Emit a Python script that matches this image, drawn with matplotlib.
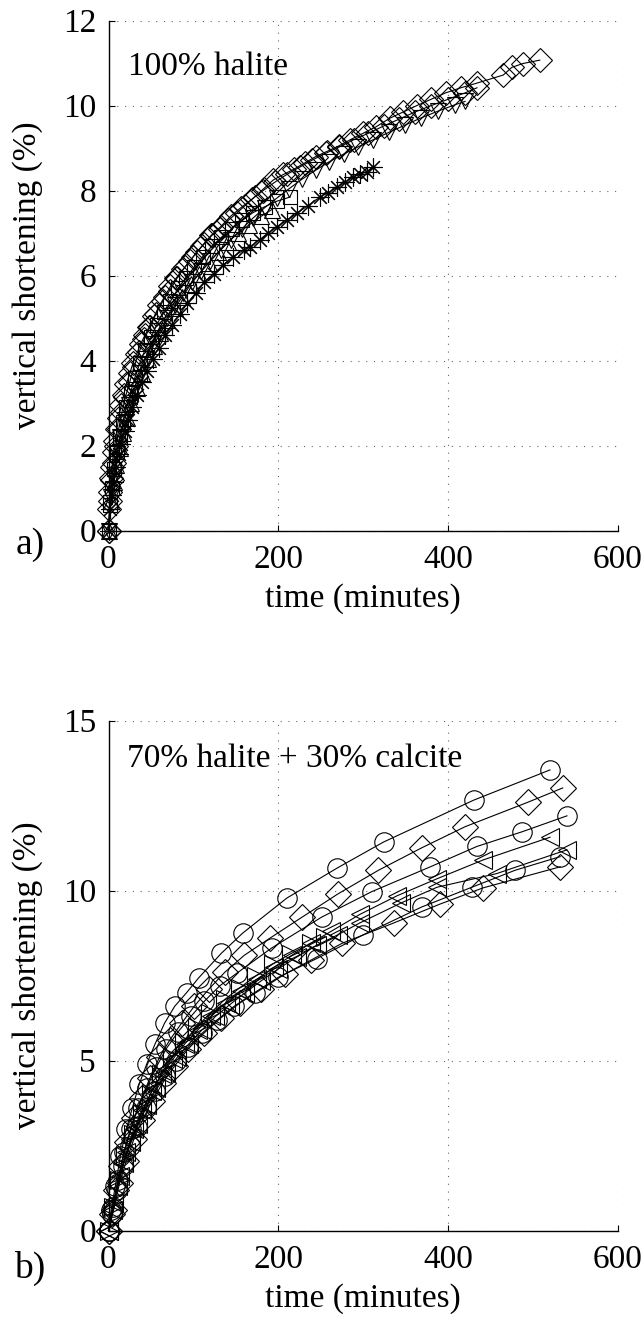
import matplotlib
matplotlib.use("Agg")
import matplotlib.pyplot as plt

plt.rcParams['font.family'] = ['Liberation Serif', 'DejaVu Serif']

# ---- panel a) 100% halite ----
t_a1 = [0, 1, 2, 3, 4, 6, 8, 10, 12, 15, 18, 21, 25, 29, 33, 38, 43, 48, 54, 60,
        66, 73, 80, 88, 96, 104, 113, 122, 131, 141, 151, 161, 172, 183, 194, 206,
        218, 231, 244, 257, 271, 285, 300, 315, 331, 347, 363, 380, 397, 415, 434,
        465, 475, 488, 508]
y_a1 = [0, 0.5, 0.9, 1.25, 1.5, 1.85, 2.1, 2.4, 2.65, 2.95, 3.2, 3.45, 3.7, 3.95,
        4.15, 4.4, 4.6, 4.8, 5.05, 5.3, 5.5, 5.75, 5.95, 6.15, 6.35, 6.55, 6.75,
        6.95, 7.1, 7.3, 7.47, 7.65, 7.85, 8.05, 8.25, 8.38, 8.5, 8.65, 8.8, 8.92,
        9.05, 9.2, 9.35, 9.5, 9.7, 9.85, 10.0, 10.15, 10.3, 10.42, 10.53, 10.72,
        10.9, 10.99, 11.07]

t_a2 = [0, 2, 4, 6, 9, 12, 16, 20, 25, 30, 36, 42, 49, 56, 64, 72, 81, 90, 100, 110,
        121, 132, 144, 156, 169, 182, 196, 210, 225, 240, 256, 272, 289, 306, 324,
        342, 361, 380, 400, 420, 434]
y_a2 = [0, 0.7, 1.2, 1.6, 2.0, 2.4, 2.8, 3.15, 3.5, 3.85, 4.2, 4.5, 4.8, 5.1, 5.4,
        5.65, 5.95, 6.2, 6.45, 6.7, 6.95, 7.15, 7.4, 7.6, 7.8, 8.0, 8.2, 8.38, 8.55,
        8.72, 8.88, 9.03, 9.2, 9.35, 9.52, 9.68, 9.85, 10.0, 10.15, 10.3, 10.42]

t_a3 = [0, 3, 6, 10, 14, 19, 24, 30, 37, 44, 52, 60, 69, 78, 88, 98, 109, 120, 132,
        144, 157, 170, 184, 198, 213, 228, 244, 260, 277, 294, 312, 330, 349, 368,
        388, 408, 420]
y_a3 = [0, 0.8, 1.3, 1.8, 2.2, 2.6, 2.95, 3.3, 3.7, 4.05, 4.4, 4.7, 5.0, 5.3, 5.6,
        5.85, 6.1, 6.35, 6.6, 6.85, 7.1, 7.35, 7.6, 7.82, 8.05, 8.27, 8.48, 8.68,
        8.86, 9.03, 9.2, 9.37, 9.54, 9.71, 9.87, 10.02, 10.1]

t_a4 = [0, 2, 4, 7, 10, 13, 17, 21, 26, 31, 37, 43, 50, 57, 65, 73, 82, 91, 101, 111,
        122, 133, 145, 157, 170, 184, 198, 214]
y_a4 = [0, 0.6, 1.0, 1.45, 1.85, 2.2, 2.55, 2.9, 3.25, 3.6, 3.95, 4.25, 4.55, 4.85,
        5.15, 5.4, 5.7, 5.95, 6.2, 6.45, 6.7, 6.9, 7.1, 7.3, 7.48, 7.62, 7.75, 7.85]

t_a5 = [0, 2, 4, 6, 9, 12, 15, 19, 23, 28, 33, 39, 45, 52, 59, 67, 75, 84, 93, 103,
        113, 124, 135, 147, 159, 167, 178, 188, 198, 210, 222, 235, 249, 259, 269,
        279, 288, 296, 304, 311]
y_a5 = [0, 0.5, 0.85, 1.15, 1.5, 1.8, 2.05, 2.35, 2.6, 2.9, 3.2, 3.5, 3.75, 4.05,
        4.3, 4.6, 4.85, 5.1, 5.35, 5.6, 5.85, 6.05, 6.25, 6.45, 6.6, 6.68, 6.85, 7.0,
        7.15, 7.3, 7.47, 7.65, 7.85, 7.95, 8.08, 8.2, 8.32, 8.38, 8.44, 8.56]

t_a6 = [0, 3, 6, 9, 13, 17, 22, 27, 33, 39, 46, 53, 61, 69, 78, 87, 97, 107, 118, 129,
        141, 153, 166, 180, 192]
y_a6 = [0, 0.7, 1.15, 1.55, 1.95, 2.3, 2.65, 3.0, 3.35, 3.7, 4.05, 4.35, 4.65, 4.95,
        5.25, 5.5, 5.8, 6.05, 6.3, 6.55, 6.8, 7.0, 7.2, 7.4, 7.55]

series_a = [(t_a1, y_a1, 'D'), (t_a2, y_a2, 'D'), (t_a3, y_a3, 'v'),
            (t_a4, y_a4, 's'), (t_a5, y_a5, (8, 2, 0)), (t_a6, y_a6, '^')]

# ---- panel b) 70% halite + 30% calcite ----
t_b1 = [0, 3, 8, 14, 21, 28, 36, 45, 55, 66, 78, 92, 106, 133, 158, 210, 269, 324, 430, 520]
y_b1 = [0, 0.6, 1.3, 2.2, 3.0, 3.6, 4.3, 4.9, 5.5, 6.1, 6.6, 7.0, 7.43, 8.16, 8.75,
        9.78, 10.66, 11.43, 12.66, 13.55]

t_b2 = [0, 4, 9, 15, 22, 30, 39, 49, 60, 72, 86, 101, 118, 137, 160, 190, 228, 270,
        318, 369, 420, 494, 535]
y_b2 = [0, 0.5, 1.2, 1.9, 2.6, 3.3, 3.9, 4.5, 5.1, 5.6, 6.1, 6.6, 7.1, 7.6, 8.1, 8.6,
        9.22, 9.9, 10.6, 11.26, 11.88, 12.6, 13.02]

t_b3 = [0, 5, 11, 18, 26, 35, 45, 56, 68, 82, 97, 113, 131, 151, 192, 251, 310, 379,
        434, 487, 540]
y_b3 = [0, 0.7, 1.5, 2.3, 3.0, 3.6, 4.2, 4.8, 5.35, 5.85, 6.3, 6.75, 7.2, 7.57, 8.31,
        9.22, 9.97, 10.7, 11.3, 11.73, 12.2]

t_b4 = [0, 6, 13, 21, 30, 40, 51, 63, 76, 90, 105, 121, 138, 156, 175, 195, 216, 238,
        262, 296, 340, 387, 441, 520]
y_b4 = [0, 0.8, 1.6, 2.3, 3.0, 3.55, 4.1, 4.6, 5.05, 5.5, 5.9, 6.3, 6.7, 7.05, 7.4,
        7.75, 8.1, 8.45, 8.8, 9.3, 9.85, 10.35, 10.9, 11.57]

t_b5 = [0, 5, 11, 18, 26, 35, 45, 56, 68, 81, 95, 110, 126, 143, 161, 180, 200, 222,
        246, 270, 296, 344, 387, 457, 540]
y_b5 = [0, 0.6, 1.3, 2.0, 2.6, 3.15, 3.7, 4.2, 4.65, 5.1, 5.5, 5.9, 6.3, 6.65, 7.0,
        7.35, 7.7, 8.05, 8.4, 8.7, 9.05, 9.63, 10.1, 10.5, 11.2]

t_b6 = [0, 4, 10, 17, 25, 34, 44, 55, 67, 80, 94, 110, 128, 148, 172, 200, 245, 300,
        369, 428, 479, 532]
y_b6 = [0, 0.5, 1.2, 1.9, 2.5, 3.05, 3.6, 4.1, 4.55, 5.0, 5.4, 5.8, 6.2, 6.6, 7.0,
        7.45, 8.0, 8.7, 9.52, 10.1, 10.6, 11.0]

t_b7 = [0, 6, 13, 21, 30, 40, 51, 64, 78, 94, 112, 132, 155, 180, 208, 238, 275, 336,
        390, 441, 532]
y_b7 = [0, 0.6, 1.4, 2.05, 2.7, 3.25, 3.8, 4.35, 4.85, 5.35, 5.8, 6.25, 6.7, 7.1,
        7.55, 7.95, 8.45, 9.05, 9.6, 10.08, 10.7]

t_b8 = [0, 5, 12, 20, 29, 39, 50, 62, 75, 89, 104, 120, 137, 155, 174, 194, 215, 238, 255]
y_b8 = [0, 0.7, 1.5, 2.2, 2.85, 3.45, 4.05, 4.6, 5.1, 5.55, 6.0, 6.4, 6.8, 7.15, 7.5,
        7.85, 8.15, 8.45, 8.65]

series_b = [(t_b1, y_b1, 'o'), (t_b2, y_b2, 'D'), (t_b3, y_b3, 'o'),
            (t_b4, y_b4, '<'), (t_b5, y_b5, '<'), (t_b6, y_b6, 'o'),
            (t_b7, y_b7, 'D'), (t_b8, y_b8, '>')]

FS = 24


def style_axes(ax, ymax, ystep):
    ax.set_xlim(0, 600)
    ax.set_ylim(0, ymax)
    ax.set_xticks([0, 200, 400, 600])
    ax.set_yticks(list(range(0, ymax + 1, ystep)))
    ax.spines['top'].set_visible(False)
    ax.spines['right'].set_visible(False)
    ax.spines['left'].set_linewidth(1.0)
    ax.spines['bottom'].set_linewidth(1.0)
    ax.grid(True, linestyle=(0, (1, 6)), color='0.4', linewidth=0.8)
    ax.tick_params(direction='in', length=4, width=0.8, labelsize=FS)
    ax.tick_params(axis='x', pad=10)
    ax.tick_params(axis='y', pad=9)
    ax.set_xlabel('time (minutes)', fontsize=FS, labelpad=6)
    ax.set_ylabel('vertical shortening (%)', fontsize=FS, labelpad=14)


fig = plt.figure(figsize=(6.44, 13.22), dpi=100)
ax1 = fig.add_axes([0.1685, 0.5986, 0.791, 0.3858])
ax2 = fig.add_axes([0.1685, 0.0691, 0.791, 0.3858])

size_a = {'D': 12, 'v': 12, '^': 12, 's': 10}
for t, y, m in series_a:
    ms = size_a.get(m, 13) if isinstance(m, str) else 13
    ax1.plot(t, y, color='black', linewidth=0.8, marker=m, markersize=ms,
             markerfacecolor='none', markeredgecolor='black',
             markeredgewidth=0.8, clip_on=False)

size_b = {'o': 14, 'D': 13, '<': 13, '>': 13}
for t, y, m in series_b:
    ax2.plot(t, y, color='black', linewidth=0.8, marker=m, markersize=size_b[m],
             markerfacecolor='none', markeredgecolor='black',
             markeredgewidth=0.8, clip_on=False)

style_axes(ax1, 12, 2)
style_axes(ax2, 15, 5)

ax1.text(0.038, 0.893, '100% halite', transform=ax1.transAxes, fontsize=FS,
         va='baseline', ha='left')
ax2.text(0.036, 0.91, '70% halite + 30% calcite', transform=ax2.transAxes,
         fontsize=FS, va='baseline', ha='left')

fig.text(30 / 644, 1 - 545 / 1322, 'a)', fontsize=FS + 3, ha='center', va='center')
fig.text(30 / 644, 1 - 1268 / 1322, 'b)', fontsize=FS + 3, ha='center', va='center')

fig.savefig('out.png', dpi=100)
